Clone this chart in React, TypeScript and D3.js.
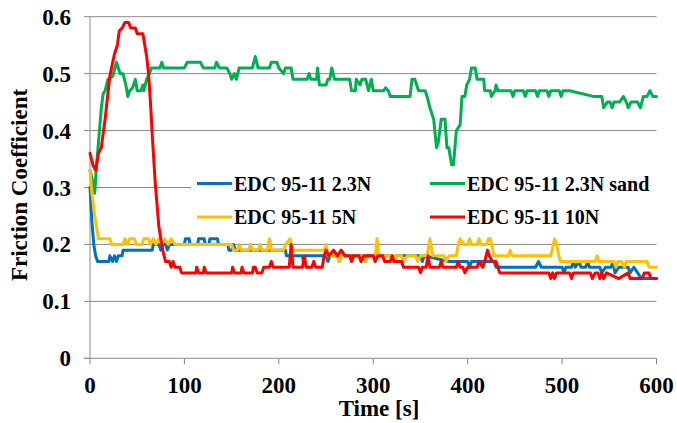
import React from "react";
import * as d3 from "d3";

const xTicks = [0, 100, 200, 300, 400, 500, 600];
const yTicks = [0, 0.1, 0.2, 0.3, 0.4, 0.5, 0.6];
const seriesNames = ["EDC 95-11 2.3N", "EDC 95-11 2.3N sand", "EDC 95-11 5N", "EDC 95-11 10N"];
const seriesColors = ["#0070C0", "#00B050", "#FFC000", "#FF0000"];

const blue2_3N: [number, number][] = [[0,0.30],[2,0.24],[4,0.20],[6,0.18],[8,0.17],[20,0.17],[21,0.18],[24,0.17],[26,0.18],[28,0.17],[30,0.18],[34,0.18],[35,0.19],[66,0.19],[67,0.20],[73,0.20],[75,0.19],[77,0.20],[80,0.20],[82,0.19],[84,0.20],[100,0.20],[101,0.21],[105,0.21],[106,0.20],[114,0.20],[115,0.21],[121,0.21],[122,0.20],[126,0.20],[127,0.21],[135,0.21],[136,0.20],[146,0.20],[147,0.19],[150,0.19],[152,0.20],[154,0.19],[207,0.19],[208,0.18],[225,0.18],[226,0.17],[228,0.18],[250,0.18],[252,0.17],[254,0.18],[262,0.18],[264,0.17],[266,0.18],[290,0.18],[292,0.17],[294,0.18],[320,0.18],[322,0.17],[324,0.18],[350,0.18],[352,0.17],[354,0.18],[380,0.17],[400,0.17],[402,0.16],[404,0.17],[428,0.17],[430,0.16],[472,0.16],[475,0.17],[478,0.16],[500,0.16],[502,0.15],[504,0.16],[510,0.16],[512,0.17],[514,0.16],[518,0.17],[520,0.16],[525,0.16],[527,0.17],[529,0.16],[540,0.16],[542,0.15],[546,0.16],[552,0.16],[554,0.17],[556,0.15],[560,0.16],[570,0.16],[572,0.15],[576,0.16],[580,0.15],[584,0.14],[600,0.14]];

const green2_3NSand: [number, number][] = [[0,0.33],[3,0.31],[5,0.29],[7,0.34],[10,0.40],[12,0.44],[14,0.465],[16,0.47],[19,0.49],[24,0.495],[28,0.52],[30,0.51],[32,0.50],[35,0.50],[38,0.48],[40,0.46],[42,0.47],[45,0.475],[48,0.49],[50,0.47],[54,0.47],[56,0.48],[57,0.47],[60,0.49],[63,0.50],[65,0.51],[74,0.51],[76,0.52],[78,0.51],[100,0.51],[103,0.52],[117,0.52],[120,0.51],[132,0.51],[134,0.52],[137,0.51],[145,0.51],[148,0.50],[150,0.49],[153,0.50],[155,0.49],[158,0.51],[172,0.51],[175,0.53],[178,0.51],[190,0.51],[192,0.52],[198,0.52],[200,0.51],[205,0.50],[207,0.51],[213,0.51],[215,0.49],[230,0.49],[232,0.50],[234,0.49],[240,0.49],[241,0.51],[243,0.48],[250,0.48],[252,0.49],[254,0.49],[256,0.51],[259,0.49],[275,0.49],[277,0.47],[281,0.47],[282,0.49],[286,0.48],[288,0.49],[292,0.49],[295,0.47],[298,0.49],[300,0.47],[311,0.47],[313,0.475],[316,0.47],[318,0.46],[339,0.46],[341,0.49],[344,0.49],[348,0.47],[355,0.47],[357,0.46],[360,0.44],[364,0.42],[367,0.37],[369,0.38],[372,0.42],[376,0.42],[378,0.37],[380,0.37],[383,0.34],[385,0.34],[388,0.40],[392,0.41],[394,0.46],[397,0.46],[399,0.48],[402,0.49],[404,0.51],[408,0.51],[410,0.49],[417,0.49],[418,0.47],[424,0.47],[425,0.46],[429,0.47],[430,0.48],[432,0.47],[446,0.47],[448,0.46],[450,0.47],[459,0.47],[461,0.46],[463,0.47],[472,0.47],[474,0.46],[476,0.47],[484,0.47],[486,0.46],[488,0.47],[497,0.47],[499,0.46],[501,0.47],[508,0.47],[533,0.46],[542,0.46],[544,0.44],[548,0.45],[551,0.45],[553,0.44],[555,0.45],[561,0.45],[565,0.46],[568,0.45],[570,0.44],[573,0.45],[580,0.45],[583,0.44],[586,0.46],[590,0.46],[593,0.47],[596,0.46],[600,0.46]];

const yellow5N: [number, number][] = [[0,0.33],[2,0.29],[5,0.25],[7,0.23],[9,0.21],[21,0.21],[23,0.20],[35,0.20],[37,0.21],[40,0.20],[42,0.21],[47,0.21],[49,0.20],[55,0.20],[57,0.21],[62,0.21],[64,0.20],[67,0.21],[70,0.20],[73,0.21],[76,0.20],[79,0.21],[83,0.20],[86,0.21],[90,0.20],[150,0.20],[152,0.19],[156,0.19],[158,0.20],[160,0.19],[168,0.19],[170,0.20],[172,0.19],[178,0.19],[180,0.20],[182,0.19],[188,0.19],[190,0.21],[192,0.19],[205,0.19],[207,0.20],[212,0.21],[214,0.19],[248,0.19],[250,0.20],[252,0.18],[262,0.18],[264,0.17],[266,0.18],[275,0.18],[277,0.17],[280,0.18],[290,0.18],[292,0.17],[294,0.18],[302,0.18],[304,0.21],[306,0.18],[320,0.18],[322,0.17],[324,0.18],[330,0.18],[332,0.17],[336,0.18],[345,0.18],[347,0.17],[350,0.18],[357,0.18],[360,0.21],[363,0.18],[375,0.18],[377,0.17],[380,0.18],[388,0.18],[390,0.20],[392,0.21],[396,0.20],[400,0.20],[402,0.21],[404,0.20],[410,0.20],[412,0.21],[414,0.20],[420,0.20],[422,0.21],[424,0.21],[428,0.18],[443,0.18],[445,0.19],[447,0.18],[488,0.18],[492,0.21],[494,0.20],[498,0.17],[535,0.17],[537,0.18],[539,0.17],[555,0.17],[557,0.16],[559,0.17],[563,0.17],[566,0.16],[568,0.17],[575,0.17],[590,0.17],[592,0.16],[600,0.16]];

const red10N: [number, number][] = [[0,0.36],[3,0.34],[6,0.33],[9,0.36],[12,0.37],[14,0.395],[16,0.42],[18,0.45],[21,0.495],[24,0.52],[26,0.535],[29,0.55],[31,0.575],[34,0.58],[37,0.59],[41,0.59],[43,0.58],[48,0.58],[50,0.57],[56,0.57],[58,0.55],[60,0.53],[62,0.50],[64,0.45],[66,0.39],[69,0.31],[71,0.27],[73,0.23],[75,0.21],[77,0.19],[80,0.17],[84,0.17],[86,0.16],[88,0.17],[90,0.16],[95,0.16],[97,0.15],[112,0.15],[113,0.16],[115,0.15],[120,0.15],[121,0.16],[123,0.15],[150,0.15],[151,0.16],[153,0.15],[160,0.15],[161,0.16],[163,0.15],[172,0.15],[173,0.16],[175,0.16],[177,0.15],[182,0.15],[184,0.16],[190,0.16],[192,0.17],[194,0.16],[211,0.16],[213,0.20],[215,0.16],[225,0.16],[227,0.18],[229,0.16],[235,0.16],[237,0.17],[239,0.16],[246,0.16],[248,0.18],[250,0.19],[253,0.18],[258,0.19],[262,0.18],[266,0.19],[270,0.18],[275,0.18],[277,0.17],[279,0.18],[285,0.18],[287,0.17],[290,0.18],[300,0.18],[302,0.17],[305,0.18],[310,0.18],[312,0.17],[318,0.17],[320,0.18],[322,0.17],[330,0.17],[332,0.16],[348,0.16],[350,0.15],[352,0.16],[356,0.16],[358,0.18],[360,0.16],[370,0.16],[372,0.17],[374,0.16],[388,0.16],[390,0.17],[392,0.16],[395,0.16],[397,0.15],[400,0.16],[410,0.16],[412,0.17],[416,0.16],[418,0.17],[421,0.19],[423,0.18],[426,0.17],[430,0.17],[434,0.15],[486,0.15],[488,0.14],[490,0.15],[492,0.14],[494,0.15],[508,0.15],[510,0.14],[512,0.15],[530,0.15],[532,0.14],[535,0.15],[538,0.15],[540,0.14],[542,0.15],[544,0.14],[547,0.15],[560,0.14],[570,0.15],[572,0.14],[585,0.14],[587,0.15],[592,0.15],[594,0.14],[600,0.14]];

const allSeries = [blue2_3N, green2_3NSand, yellow5N, red10N];

const W = 677, H = 423;
const TXT: React.CSSProperties = { fontFamily: '"Liberation Serif"' };

export default function App() {
  const x = d3.scaleLinear().domain([0, 600]).range([90, 656.5]);
  const y = d3.scaleLinear().domain([0, 0.6]).range([358.3, 16.7]);
  const line = d3.line<[number, number]>().x(d => x(d[0])).y(d => y(d[1]));
  const gridColor = "#898989";

  const legendItems = seriesNames.map((n, i) => ({
    name: n, color: seriesColors[i],
    lx: i % 2 === 0 ? 197 : 430,
    ly: i < 2 ? 183.5 : 217,
  }));

  return (
    <svg width={W} height={H} style={{ position: "absolute", left: 0, top: 0, background: "#fff" }}>
      <rect x={0} y={0} width={W} height={H} fill="#fff" />
      {yTicks.filter(t => t > 0).map(t => (
        <line key={"g" + t} x1={x(0)} x2={x(600)} y1={y(t)} y2={y(t)} stroke={gridColor} strokeWidth={1} />
      ))}
      <line x1={x(0)} x2={x(0)} y1={y(0)} y2={y(0.6)} stroke={gridColor} strokeWidth={1} />
      <line x1={x(0) - 6} x2={x(600)} y1={y(0)} y2={y(0)} stroke={gridColor} strokeWidth={1} />
      {yTicks.map(t => (
        <line key={"yt" + t} x1={x(0) - 6} x2={x(0)} y1={y(t)} y2={y(t)} stroke={gridColor} strokeWidth={1} />
      ))}
      {xTicks.map(t => (
        <line key={"xt" + t} x1={x(t)} x2={x(t)} y1={y(0)} y2={y(0) + 6} stroke={gridColor} strokeWidth={1} />
      ))}
      {yTicks.map(t => (
        <text key={"yl" + t} x={71} y={y(t) + 8} textAnchor="end" fontSize={23} fontWeight="bold" style={TXT}>{t === 0 ? "0" : t.toFixed(1)}</text>
      ))}
      {xTicks.map(t => (
        <text key={"xl" + t} x={x(t)} y={393} textAnchor="middle" fontSize={23} fontWeight="bold" style={TXT}>{t}</text>
      ))}
      <text x={379} y={416} textAnchor="middle" fontSize={23} fontWeight="bold" style={TXT}>Time [s]</text>
      <text transform={`translate(27,${185}) rotate(-90)`} textAnchor="middle" fontSize={23} fontWeight="bold" style={TXT}>Friction Coefficient</text>
      <rect x={191} y={170} width={466} height={62} fill="#fff" />
      {allSeries.map((s, i) => (
        <path key={"s" + i} d={line(s) || ""} fill="none" stroke={seriesColors[i]} strokeWidth={3} strokeLinejoin="round" strokeLinecap="round" />
      ))}
      {legendItems.map(it => (
        <g key={it.name}>
          <line x1={it.lx} x2={it.lx + 35} y1={it.ly} y2={it.ly} stroke={it.color} strokeWidth={3} />
          <text x={it.lx + 37} y={it.ly + 7} fontSize={20} fontWeight="bold" style={TXT}>{it.name}</text>
        </g>
      ))}
    </svg>
  );
}
